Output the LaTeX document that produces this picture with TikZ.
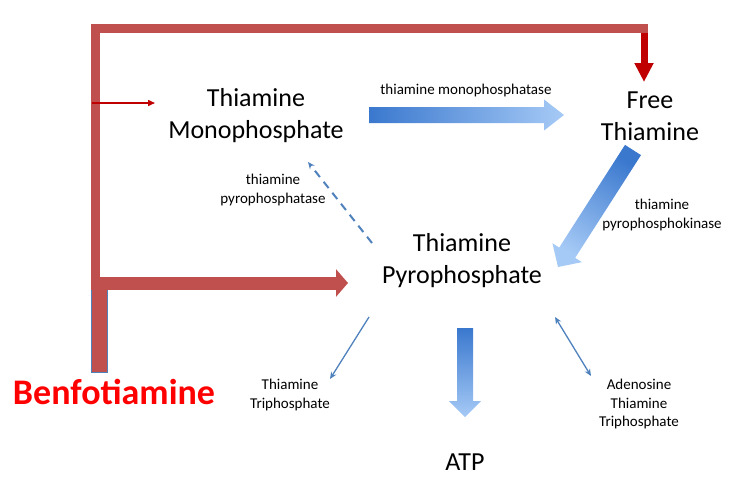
\documentclass[tikz,border=0pt]{standalone}
\usepackage{fontspec}
\setmainfont{Carlito}
\usetikzlibrary{positioning, arrows.meta, calc}
\definecolor{framered}{RGB}{192,80,77}
\definecolor{deepred}{RGB}{192,0,0}
\definecolor{linkblue}{RGB}{79,129,189}
\definecolor{shadedark}{RGB}{58,120,206}
\definecolor{shadelight}{RGB}{166,202,246}
\tikzset{
	compound/.style={align=center, font=\fontsize{26}{32}\selectfont}, % the big compound names
	enzyme/.style={align=center, font=\fontsize{15}{18.5}\selectfont}, % the small labels
	frame/.style={draw=framered, line width=9pt, line join=miter}, % the thick red frame
	thinlink/.style={draw=linkblue, line width=1.3pt, -{Stealth[length=7pt,width=6pt]}}, % thin blue arrows
}
% shaded block arrow: [shading]{from}{to}{half body}{half head}{head length}
\newcommand{\blockarrow}[6][]{%
	\coordinate (ba_head) at ($(#3)!#6!(#2)$);
	\shade[#1] ($(#2)!#4!90:(#3)$) -- ($(ba_head)!#4!90:(#3)$) -- ($(ba_head)!#5!90:(#3)$) -- (#3)
		-- ($(ba_head)!#5!-90:(#3)$) -- ($(ba_head)!#4!-90:(#3)$) -- ($(#2)!#4!-90:(#3)$) -- cycle;
}

\begin{document}
\begin{tikzpicture}[x=1pt, y=-1pt]
		\useasboundingbox (0,0) rectangle (750,493);

		\node[compound] (mono_phosphate) at (256,116) {Thiamine\\Monophosphate};
		\node[compound] (free_thiamine) at (650,116) {Free\\Thiamine};
		\node[compound] (pyro_phosphate) at (462,261) {Thiamine\\Pyrophosphate};
		\node[compound] (atp_node) at (465,462) {ATP};
		\node[font=\fontsize{36}{40}\selectfont\bfseries, text=red] (benfo_node) at (114,392) {Benfotiamine};

		\node[enzyme] (mono_ase) at (466,90) {thiamine monophosphatase};
		\node[enzyme] (pyro_ase) at (273,190) {thiamine\\pyrophosphatase};
		\node[enzyme] (pyro_kinase) at (662,215) {thiamine\\pyrophosphokinase};
		\node[enzyme] (tri_phosphate) at (290,395) {Thiamine\\Triphosphate};
		\node[enzyme] (aden_tri) at (639,404) {Adenosine\\Thiamine\\Triphosphate};

		\coordinate (frame_low) at (95.5,288);
		\coordinate (frame_left) at (95.5,28.5);
		\coordinate (frame_right) at (648,28.5);
		\coordinate (drop_top) at (644,33);
		\coordinate (drop_tip) at (644,82);
		\coordinate (side_start) at (92,103);
		\coordinate (side_tip) at (155,103);
		\coordinate (bar_start) at (91,283);
		\coordinate (bar_tip) at (348,283);
		\coordinate (mono_tail) at (369,115);
		\coordinate (mono_tip) at (564,115);
		\coordinate (kin_tail) at (633,150);
		\coordinate (kin_tip) at (558,267);
		\coordinate (atp_tail) at (465,328);
		\coordinate (atp_tip) at (465,417);
		\coordinate (ase_tail) at (372,243);
		\coordinate (ase_tip) at (308,162);
		\coordinate (tri_tail) at (369,317);
		\coordinate (tri_tip) at (330,379);
		\coordinate (aden_top) at (555,317);
		\coordinate (aden_low) at (591,376);

		\draw[draw=linkblue, fill=framered, line width=0.8pt] (91,280) rectangle (107,372);
		\draw[frame] (frame_low) -- (frame_left) -- (frame_right);
		\draw[deepred, line width=7pt, -{Triangle[length=19pt,width=18pt]}] (drop_top) -- (drop_tip);
		\draw[deepred, line width=1.5pt, -{Triangle[length=7pt,width=6pt]}] (side_start) -- (side_tip);
		\draw[framered, line width=13pt, -{Triangle[length=12pt,width=27pt]}] (bar_start) -- (bar_tip);

		\blockarrow[left color=shadedark, right color=shadelight]{mono_tail}{mono_tip}{8pt}{15.5pt}{20pt}
		\blockarrow[top color=shadedark, bottom color=shadelight, shading angle=-33]{kin_tail}{kin_tip}{9.5pt}{17.5pt}{17pt}
		\blockarrow[top color=shadedark, bottom color=shadelight]{atp_tail}{atp_tip}{8pt}{16pt}{16pt}

		\draw[thinlink, line width=2pt, dash pattern=on 8pt off 6pt] (ase_tail) -- (ase_tip);
		\draw[thinlink] (tri_tail) -- (tri_tip);
		\draw[thinlink, {Stealth[length=7pt,width=6pt]}-{Stealth[length=7pt,width=6pt]}] (aden_top) -- (aden_low);
	\end{tikzpicture}
\end{document}
